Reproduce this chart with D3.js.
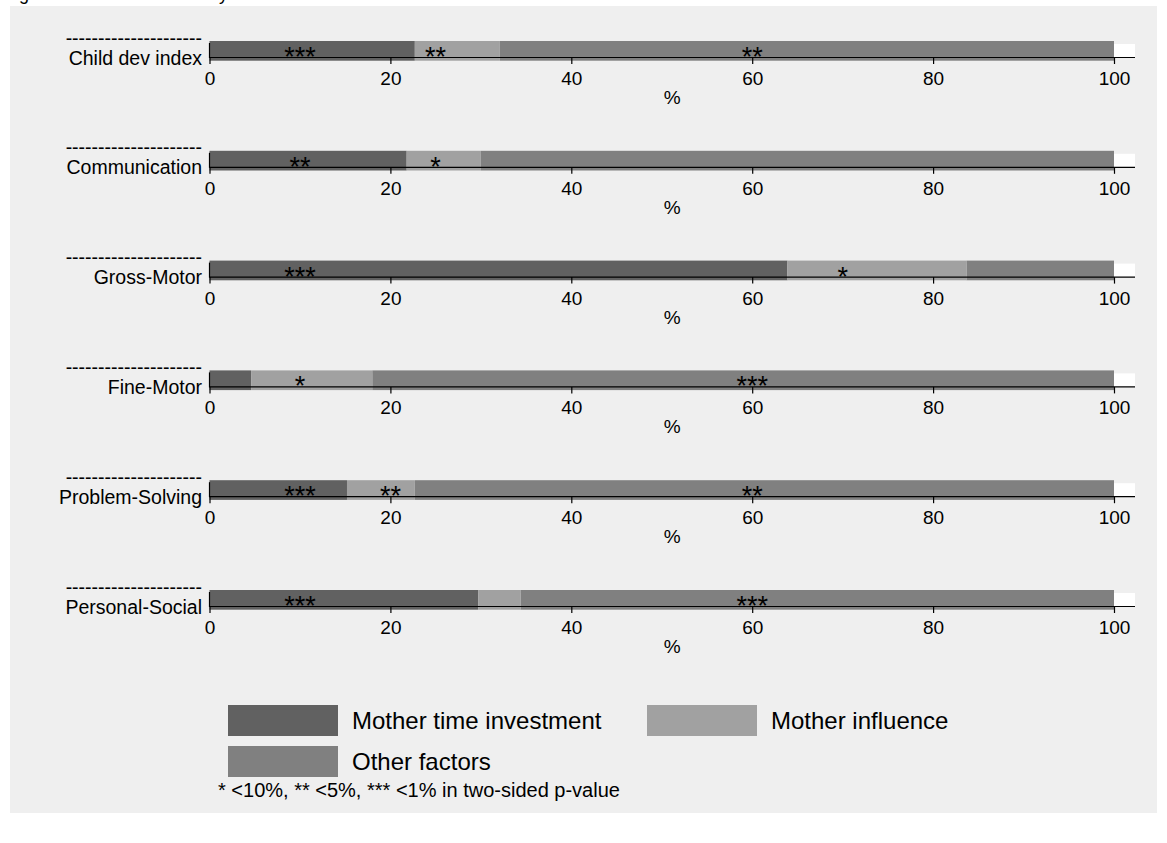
<!DOCTYPE html>
<html>
<head>
<meta charset="utf-8">
<script src="https://cdn.jsdelivr.net/npm/d3@7/dist/d3.min.js"></script>
<style>
  html, body { margin: 0; padding: 0; background: #ffffff; }
  svg { display: block; font-family: "Liberation Sans", Arial, sans-serif; }
</style>
</head>
<body>
<svg id="chart" width="1167" height="843"></svg>
<script>
// Outcome panels, one stacked 100% bar each
const categories = ["Child dev index", "Communication", "Gross-Motor", "Fine-Motor", "Problem-Solving", "Personal-Social"];
const motherTime      = [22.7, 21.8, 63.9, 4.6, 15.2, 29.7];
const motherInfluence = [9.4, 8.2, 19.8, 13.4, 7.5, 4.7];
const otherFactors    = [67.9, 70.0, 16.3, 82.0, 77.3, 65.6];

// Significance stars and the x value (in %) where each one is printed
const timeStars      = ["***", "**", "***", "", "***", "***"];
const influenceStars = ["**", "*", "*", "*", "**", ""];
const otherStars     = ["**", "", "", "***", "**", "***"];
const timeStarAt      = [10, 10, 10, 10, 10, 10];
const influenceStarAt = [25, 25, 70, 10, 20, 25];
const otherStarAt     = [60, 60, 60, 60, 60, 60];

const seriesNames = ["Mother time investment", "Mother influence", "Other factors"];
const xTicks = [0, 20, 40, 60, 80, 100];
const axisTitle = "%";
const noteText = "* <10%, ** <5%, *** <1% in two-sided p-value";
const titleText = "Figure 5. Child outcomes by factor";

const colors = ["#616161", "#a1a1a1", "#808080"];

const svg = d3.select("#chart");

// graph region
svg.append("rect").attr("x", 10).attr("y", 6).attr("width", 1147).attr("height", 807).attr("fill", "#efefef");

// title line, sitting above the graph region (only its descenders fall inside the page)
svg.append("text").attr("x", 4).attr("y", -0.5).attr("font-size", 18).attr("fill", "#000").text(titleText);

const x = d3.scaleLinear().domain([0, 100]).range([209.5, 1114]);
const plotRight = 1135;
const panelTop = d3.scaleLinear().domain([0, 1]).range([41, 150.8]);

const seriesValues = [motherTime, motherInfluence, otherFactors];
const seriesStars = [timeStars, influenceStars, otherStars];
const seriesStarAt = [timeStarAt, influenceStarAt, otherStarAt];

categories.forEach((cat, i) => {
  const y0 = panelTop(i);
  const g = svg.append("g");

  // white plot region
  g.append("rect").attr("x", x(0)).attr("y", y0 + 3).attr("width", plotRight - x(0)).attr("height", 13.5).attr("fill", "#ffffff");

  // stacked segments
  const stack = [];
  let acc = 0;
  seriesValues.forEach((vals, s) => {
    stack.push({ s, start: acc, end: acc + vals[i] });
    acc += vals[i];
  });
  g.selectAll("rect.seg").data(stack).enter().append("rect")
    .attr("class", "seg")
    .attr("x", d => x(d.start))
    .attr("y", y0)
    .attr("width", d => x(d.end) - x(d.start))
    .attr("height", 19.7)
    .attr("fill", d => colors[d.s]);

  // x axis
  const axis = d3.axisBottom(x).tickValues(xTicks).tickSize(6.5).tickPadding(3).tickFormat(d3.format("d"));
  const ax = g.append("g").attr("transform", `translate(0,${y0 + 16.5})`).call(axis);
  ax.select(".domain").remove();
  ax.append("line").attr("x1", x(0)).attr("x2", plotRight).attr("y1", 0).attr("y2", 0).attr("stroke", "#000").attr("stroke-width", 1.2);
  ax.selectAll(".tick line").attr("stroke", "#000").attr("stroke-width", 1.2);
  ax.selectAll(".tick text").attr("font-size", 19).attr("fill", "#000")
    .attr("font-family", "'Liberation Sans', Arial, sans-serif").attr("dy", "0.95em");

  // left edge of plot region
  g.append("line").attr("x1", x(0)).attr("x2", x(0)).attr("y1", y0 + 2).attr("y2", y0 + 17)
    .attr("stroke", "#000").attr("stroke-width", 1.2);

  // axis title
  g.append("text").attr("x", (x(0) + plotRight) / 2).attr("y", y0 + 63).attr("text-anchor", "middle")
    .attr("font-size", 19).text(axisTitle);

  // category label with separator line above it
  g.append("text").attr("x", 202).attr("y", y0 + 3.5).attr("text-anchor", "end").attr("font-size", 19.5)
    .text("---------------------");
  g.append("text").attr("x", 202).attr("y", y0 + 23.5).attr("text-anchor", "end").attr("font-size", 19.5)
    .text(cat);

  // stars
  const starData = seriesStars.map((arr, s) => ({ t: arr[i], at: seriesStarAt[s][i] })).filter(d => d.t);
  g.selectAll("text.star").data(starData).enter().append("text")
    .attr("class", "star")
    .attr("x", d => x(d.at))
    .attr("y", y0 + 25)
    .attr("text-anchor", "middle")
    .attr("font-size", 27)
    .text(d => d.t);
});

// legend
const legendItems = [
  { name: seriesNames[0], color: colors[0], kx: 228, ky: 705 },
  { name: seriesNames[1], color: colors[1], kx: 647, ky: 705 },
  { name: seriesNames[2], color: colors[2], kx: 228, ky: 746 }
];
const lg = svg.append("g");
legendItems.forEach(it => {
  lg.append("rect").attr("x", it.kx).attr("y", it.ky).attr("width", 110).attr("height", 31).attr("fill", it.color);
  lg.append("text").attr("x", it.kx + 124).attr("y", it.ky + 24).attr("font-size", 24).text(it.name);
});
lg.append("text").attr("x", 218).attr("y", 797).attr("font-size", 20).text(noteText);
</script>
</body>
</html>
